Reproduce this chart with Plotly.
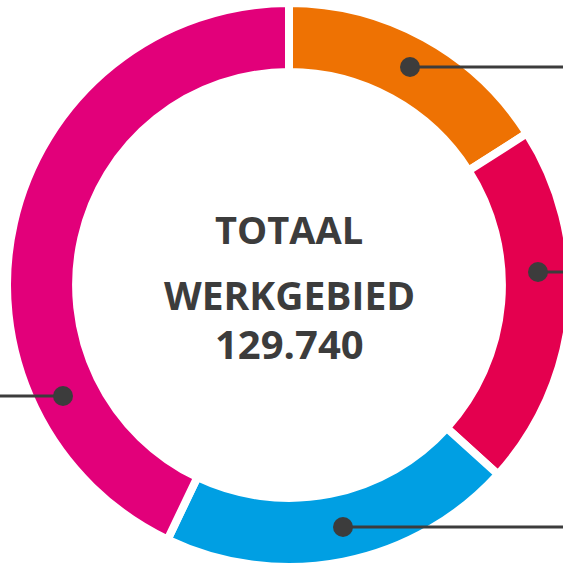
import plotly.graph_objects as go

# Data
categories = ["Deel 1", "Deel 2", "Deel 3", "Deel 4"]
values = [20720, 26920, 26420, 55680]
colors = ["#EE7203", "#E4004F", "#009FE3", "#E2007A"]
center_lines = ["TOTAAL", "WERKGEBIED", "129.740"]

# figure slightly larger than the window; the overflow is hidden (ring runs off the right edge)
W, H = 572, 570

def px(x):
    return x / W

def py(y):
    return 1 - y / H

CX, CY, R = 289, 285, 282

fig = go.Figure()
fig.add_trace(go.Pie(
    labels=categories,
    values=values,
    marker=dict(colors=colors, line=dict(color="white", width=8)),
    hole=0.755,
    sort=False,
    direction="clockwise",
    rotation=0,
    textinfo="none",
    hoverinfo="label+value",
    showlegend=False,
    domain=dict(x=[px(CX - R), px(CX + R)], y=[py(CY + R), py(CY - R)]),
))

ink = "#3c3c3c"
shapes = []
# leader lines with dots (decorative callouts)
leaders = [
    ((410, 67), (572, 67)),
    ((538, 272), (572, 272)),
    ((343, 527), (572, 527)),
    ((63, 396), (0, 396)),
]
r = 10
for (dx, dy), (ex, ey) in leaders:
    shapes.append(dict(type="line", xref="paper", yref="paper",
                       x0=px(dx), y0=py(dy), x1=px(ex), y1=py(ey),
                       line=dict(color=ink, width=3)))
    shapes.append(dict(type="circle", xref="paper", yref="paper",
                       x0=px(dx - r), x1=px(dx + r), y0=py(dy + r), y1=py(dy - r),
                       fillcolor=ink, line=dict(color=ink, width=0)))

annotations = []
ys = [229, 294, 343]
sizes = [38, 39, 40]
for t, yy, s in zip(center_lines, ys, sizes):
    annotations.append(dict(text=f"<b>{t}</b>", x=px(289), y=py(yy), xref="paper", yref="paper",
                            showarrow=False, xanchor="center", yanchor="middle",
                            font=dict(family="Open Sans", size=s, color=ink)))

fig.update_layout(
    width=W, height=H,
    margin=dict(l=0, r=0, t=0, b=0),
    paper_bgcolor="white", plot_bgcolor="white",
    shapes=shapes, annotations=annotations,
)

fig.write_html(
    "out.html",
    config={"displayModeBar": False},
    post_script="document.body.style.margin='0';document.body.style.overflow='hidden';"
                "document.documentElement.style.overflow='hidden';",
)
